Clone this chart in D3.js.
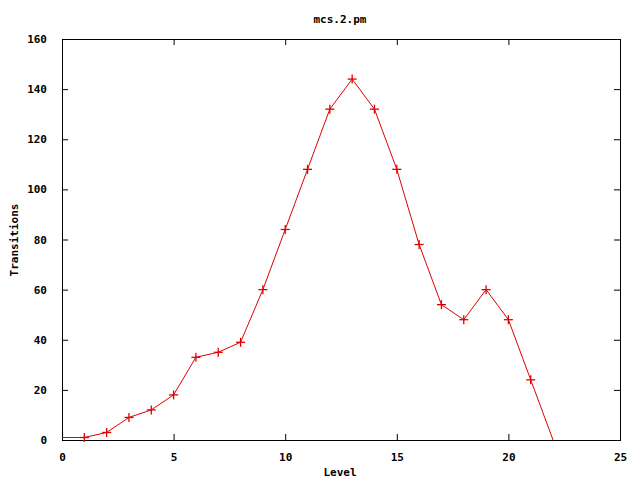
<!DOCTYPE html>
<html>
<head>
<meta charset="utf-8">
<script src="https://cdn.jsdelivr.net/npm/d3@7"></script>
<style>
  body { margin: 0; background: #fff; }
  text { font-family: "DejaVu Sans Mono", "Liberation Mono", monospace; font-size: 11px; font-weight: bold; fill: #000; }
</style>
</head>
<body>
<svg width="640" height="480"></svg>
<script>
// data
var levels = [0, 1, 2, 3, 4, 5, 6, 7, 8, 9, 10, 11, 12, 13, 14, 15, 16, 17, 18, 19, 20, 21, 22];
var transitions = [1, 1, 3, 9, 12, 18, 33, 35, 39, 60, 84, 108, 132, 144, 132, 108, 78, 54, 48, 60, 48, 24, 0];
var xTicks = [0, 5, 10, 15, 20, 25];
var yTicks = [0, 20, 40, 60, 80, 100, 120, 140, 160];

var title = "mcs.2.pm";
var xLabel = "Level";
var yLabel = "Transitions";

var data = levels.map(function(d, i) { return { level: d, value: transitions[i] }; });

var svg = d3.select("svg");
var margin = { top: 39, right: 20, bottom: 40, left: 62 };
var width = 640 - margin.left - margin.right;
var height = 480 - margin.top - margin.bottom;

var x = d3.scaleLinear().domain([0, 25]).range([margin.left, margin.left + width]);
var y = d3.scaleLinear().domain([0, 160]).range([margin.top + height, margin.top]);

var tick = 6;

// bottom axis (ticks inward)
svg.append("g")
   .attr("transform", "translate(0," + y(0) + ")")
   .call(d3.axisBottom(x).tickValues(xTicks).tickSizeInner(-tick).tickSizeOuter(0).tickPadding(13))
   .call(function(g) { g.select(".domain").remove(); });

// left axis
svg.append("g")
   .attr("transform", "translate(" + x(0) + ",0)")
   .call(d3.axisLeft(y).tickValues(yTicks).tickSizeInner(-tick).tickSizeOuter(0).tickPadding(15))
   .call(function(g) { g.select(".domain").remove(); });

// mirrored ticks top / right
svg.append("g")
   .attr("transform", "translate(0," + y(160) + ")")
   .call(d3.axisTop(x).tickValues(xTicks).tickSizeInner(-tick).tickSizeOuter(0).tickFormat(""))
   .call(function(g) { g.select(".domain").remove(); });

svg.append("g")
   .attr("transform", "translate(" + x(25) + ",0)")
   .call(d3.axisRight(y).tickValues(yTicks).tickSizeInner(-tick).tickSizeOuter(0).tickFormat(""))
   .call(function(g) { g.select(".domain").remove(); });

svg.selectAll(".tick line").attr("stroke", "#000");
svg.selectAll(".tick text").style("font-size", "11px");

// border
svg.append("rect")
   .attr("x", x(0) + 0.5)
   .attr("y", y(160) + 0.5)
   .attr("width", x(25) - x(0))
   .attr("height", y(0) - y(160))
   .attr("fill", "none")
   .attr("stroke", "#000")
   .attr("stroke-width", 1);

var line = d3.line()
   .x(function(d) { return x(d.level); })
   .y(function(d) { return y(d.value); });

svg.append("path")
   .datum(data)
   .attr("fill", "none")
   .attr("stroke", "#e00000")
   .attr("stroke-width", 1)
   .attr("d", line);

// + markers, skipped where they sit on the border
var pts = data.filter(function(d) { return d.level > 0 && d.value > 0; });
var marks = svg.append("g").attr("stroke", "#e00000").attr("stroke-width", 1.3);
marks.selectAll(".h").data(pts).enter().append("line")
   .attr("x1", function(d) { return x(d.level) - 4.5; })
   .attr("x2", function(d) { return x(d.level) + 4.5; })
   .attr("y1", function(d) { return y(d.value); })
   .attr("y2", function(d) { return y(d.value); });
marks.selectAll(".v").data(pts).enter().append("line")
   .attr("x1", function(d) { return x(d.level); })
   .attr("x2", function(d) { return x(d.level); })
   .attr("y1", function(d) { return y(d.value) - 4.5; })
   .attr("y2", function(d) { return y(d.value) + 4.5; });

// labels
svg.append("text")
   .attr("x", 340).attr("y", 23)
   .attr("text-anchor", "middle")
   .text(title);

svg.append("text")
   .attr("x", 340).attr("y", 476)
   .attr("text-anchor", "middle")
   .text(xLabel);

svg.append("text")
   .attr("transform", "translate(18,240) rotate(-90)")
   .attr("text-anchor", "middle")
   .text(yLabel);
</script>
</body>
</html>
